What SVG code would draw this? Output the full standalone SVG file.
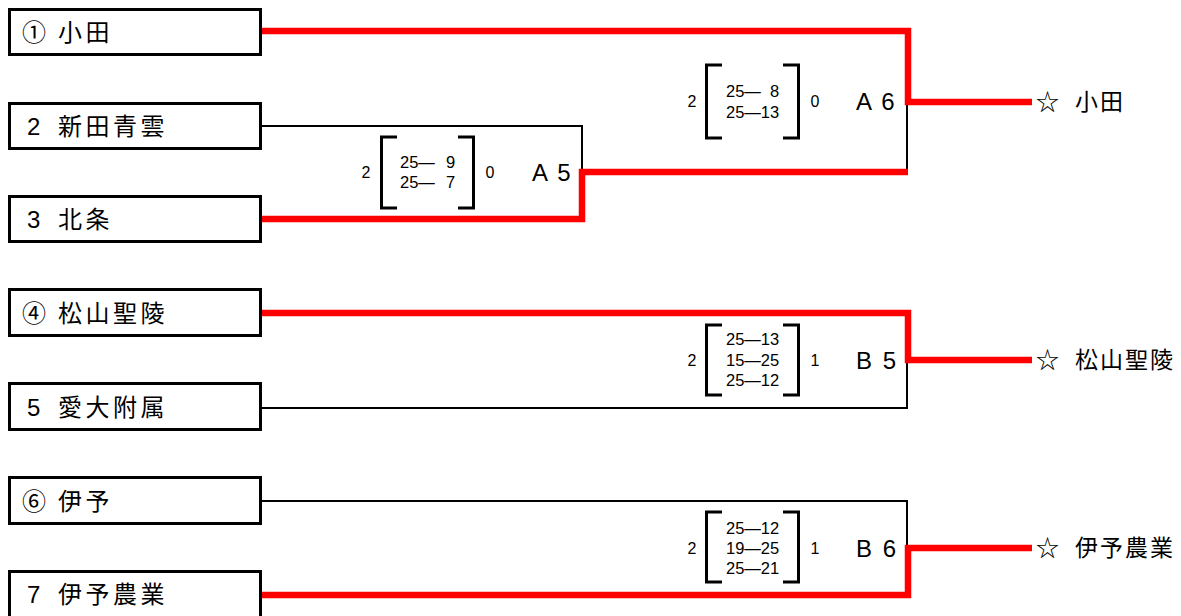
<svg xmlns="http://www.w3.org/2000/svg" width="1181" height="616" viewBox="0 0 1181 616">
<style>
.box{fill:#fff;stroke:#000;stroke-width:3}
.nm{font-family:"Liberation Sans","Noto Sans CJK JP",sans-serif;font-size:24px;letter-spacing:3.5px;fill:#000;dominant-baseline:central}
.win{font-family:"Liberation Sans","Noto Sans CJK JP",sans-serif;font-size:23px;letter-spacing:2px;fill:#000;dominant-baseline:central}
.bk{fill:none;stroke:#000;stroke-width:2}
.rd{fill:none;stroke:#f00;stroke-width:6.5;stroke-linejoin:miter;stroke-linecap:butt}
.br{fill:none;stroke:#000;stroke-width:3}
.sc{font-family:"Liberation Sans",sans-serif;font-size:16.5px;fill:#000;dominant-baseline:central}
.sm{font-family:"Liberation Sans",sans-serif;font-size:16px;fill:#000;dominant-baseline:central;text-anchor:middle}
.mt{font-family:"Liberation Sans",sans-serif;font-size:24px;letter-spacing:2px;fill:#000;dominant-baseline:central}
</style>
<rect width="1181" height="616" fill="#fff"/>
<g id="connectors">
<path class="bk" d="M262,126 H582 V172"/>
<path class="bk" d="M907,102 V172"/>
<path class="bk" d="M262,408 H907 V360"/>
<path class="bk" d="M262,501 H907 V548"/>
<path class="rd" d="M262,31 H908 V102 H1032"/>
<path class="rd" d="M262,219 H582 V172 H908"/>
<path class="rd" d="M262,313 H908 V360 H1032"/>
<path class="rd" d="M262,595 H908 V548 H1032"/>
</g>
<g id="team1"><rect class="box" x="9.5" y="9.5" width="251" height="45"/><text class="nm" x="22" y="32">① <tspan x="58">小田</tspan></text></g>
<g id="team2"><rect class="box" x="9.5" y="103.5" width="251" height="45"/><text class="nm" x="27" y="126">2 <tspan x="58">新田青雲</tspan></text></g>
<g id="team3"><rect class="box" x="9.5" y="196.5" width="251" height="45"/><text class="nm" x="27" y="219">3 <tspan x="58">北条</tspan></text></g>
<g id="team4"><rect class="box" x="9.5" y="289.5" width="251" height="46"/><text class="nm" x="22" y="313">④ <tspan x="58">松山聖陵</tspan></text></g>
<g id="team5"><rect class="box" x="9.5" y="383.5" width="251" height="46"/><text class="nm" x="27" y="407">5 <tspan x="58">愛大附属</tspan></text></g>
<g id="team6"><rect class="box" x="9.5" y="477.5" width="251" height="46"/><text class="nm" x="22" y="501">⑥ <tspan x="58">伊予</tspan></text></g>
<g id="team7"><rect class="box" x="9.5" y="571.5" width="251" height="48"/><text class="nm" x="27" y="594">7 <tspan x="58">伊予農業</tspan></text></g>
<g id="matchA5">
<path class="br" d="M397,137 H381.5 V208 H397"/><path class="br" d="M458,137 H473.5 V208 H458"/>
<text class="sm" x="366" y="172">2</text>
<text class="sc" x="400" y="162">25— <tspan x="446">9</tspan></text>
<text class="sc" x="400" y="182">25— <tspan x="446">7</tspan></text>
<text class="sm" x="490" y="172">0</text>
<text class="mt" x="532" y="172">A 5</text>
</g>
<g id="matchA6">
<path class="br" d="M722,65 H706.5 V138 H722"/><path class="br" d="M783,65 H798.5 V138 H783"/>
<text class="sm" x="692" y="101">2</text>
<text class="sc" x="726" y="91">25— <tspan x="770">8</tspan></text>
<text class="sc" x="726" y="112">25—13</text>
<text class="sm" x="815" y="101">0</text>
<text class="mt" x="856" y="101">A 6</text>
</g>
<g id="matchB5">
<path class="br" d="M722,325 H706.5 V395 H722"/><path class="br" d="M783,325 H798.5 V395 H783"/>
<text class="sm" x="692" y="360">2</text>
<text class="sc" x="726" y="339">25—13</text>
<text class="sc" x="726" y="360">15—25</text>
<text class="sc" x="726" y="380">25—12</text>
<text class="sm" x="815" y="360">1</text>
<text class="mt" x="856" y="360">B 5</text>
</g>
<g id="matchB6">
<path class="br" d="M722,512 H706.5 V582 H722"/><path class="br" d="M783,512 H798.5 V582 H783"/>
<text class="sm" x="692" y="548">2</text>
<text class="sc" x="726" y="528">25—12</text>
<text class="sc" x="726" y="548">19—25</text>
<text class="sc" x="726" y="568">25—21</text>
<text class="sm" x="815" y="548">1</text>
<text class="mt" x="856" y="548">B 6</text>
</g>
<g id="winner1"><text class="win" x="1036" y="102">☆ <tspan x="1075">小田</tspan></text></g>
<g id="winner2"><text class="win" x="1036" y="360">☆ <tspan x="1075">松山聖陵</tspan></text></g>
<g id="winner3"><text class="win" x="1036" y="548">☆ <tspan x="1075">伊予農業</tspan></text></g>
</svg>
